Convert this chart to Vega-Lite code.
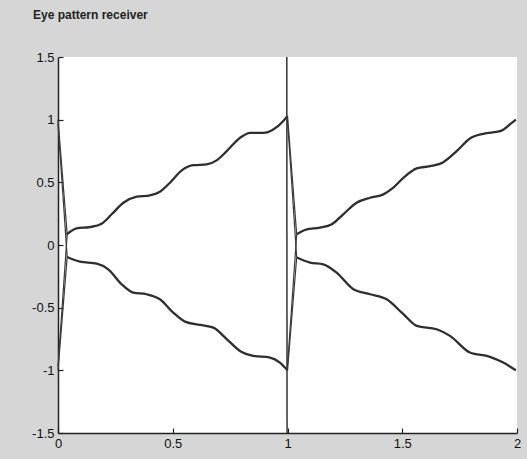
{
  "$schema": "https://vega.github.io/schema/vega-lite/v6.json",
  "autosize": "none",
  "width": 459,
  "height": 376,
  "padding": {"left": 58, "top": 57, "right": 10, "bottom": 26},
  "background": "#d6d6d6",
  "title": {
    "text": "Eye pattern receiver",
    "anchor": "start",
    "frame": "group",
    "dx": -25,
    "offset": 29,
    "font": "Liberation Sans",
    "fontSize": 12,
    "fontWeight": "bold",
    "color": "#222"
  },
  "config": {
    "view": {"fill": "white", "stroke": null},
    "axis": {
      "grid": false,
      "domainColor": "#222",
      "domainWidth": 1.5,
      "tickColor": "#222",
      "tickSize": -5,
      "tickWidth": 1.2,
      "labelPadding": 9,
      "labelFont": "Liberation Sans",
      "labelFontSize": 13,
      "labelColor": "#111",
      "labelFlush": false,
      "labelOverlap": false,
      "labelExpr": "replace(datum.label, '\u2212', '-')",
      "title": null
    }
  },
  "data": {
    "values": [
      {"s": "t0", "k": "trace", "x": 0.038, "y": 0.085},
      {"s": "t0", "k": "trace", "x": 0.081, "y": 0.133},
      {"s": "t0", "k": "trace", "x": 0.139, "y": 0.143},
      {"s": "t0", "k": "trace", "x": 0.19, "y": 0.17},
      {"s": "t0", "k": "trace", "x": 0.234, "y": 0.245},
      {"s": "t0", "k": "trace", "x": 0.285, "y": 0.337},
      {"s": "t0", "k": "trace", "x": 0.343, "y": 0.385},
      {"s": "t0", "k": "trace", "x": 0.4, "y": 0.396},
      {"s": "t0", "k": "trace", "x": 0.444, "y": 0.425},
      {"s": "t0", "k": "trace", "x": 0.488, "y": 0.497},
      {"s": "t0", "k": "trace", "x": 0.539, "y": 0.595},
      {"s": "t0", "k": "trace", "x": 0.59, "y": 0.637},
      {"s": "t0", "k": "trace", "x": 0.648, "y": 0.643},
      {"s": "t0", "k": "trace", "x": 0.691, "y": 0.675},
      {"s": "t0", "k": "trace", "x": 0.735, "y": 0.749},
      {"s": "t0", "k": "trace", "x": 0.793, "y": 0.855},
      {"s": "t0", "k": "trace", "x": 0.837, "y": 0.895},
      {"s": "t0", "k": "trace", "x": 0.895, "y": 0.895},
      {"s": "t0", "k": "trace", "x": 0.938, "y": 0.922},
      {"s": "t0", "k": "trace", "x": 0.982, "y": 0.99},
      {"s": "t0", "k": "trace", "x": 1.0, "y": 1.03},

      {"s": "b0", "k": "trace", "x": 0.04, "y": -0.096},
      {"s": "b0", "k": "trace", "x": 0.096, "y": -0.133},
      {"s": "b0", "k": "trace", "x": 0.169, "y": -0.149},
      {"s": "b0", "k": "trace", "x": 0.219, "y": -0.194},
      {"s": "b0", "k": "trace", "x": 0.277, "y": -0.313},
      {"s": "b0", "k": "trace", "x": 0.328, "y": -0.38},
      {"s": "b0", "k": "trace", "x": 0.386, "y": -0.393},
      {"s": "b0", "k": "trace", "x": 0.444, "y": -0.433},
      {"s": "b0", "k": "trace", "x": 0.502, "y": -0.539},
      {"s": "b0", "k": "trace", "x": 0.553, "y": -0.611},
      {"s": "b0", "k": "trace", "x": 0.619, "y": -0.637},
      {"s": "b0", "k": "trace", "x": 0.677, "y": -0.659},
      {"s": "b0", "k": "trace", "x": 0.735, "y": -0.751},
      {"s": "b0", "k": "trace", "x": 0.793, "y": -0.845},
      {"s": "b0", "k": "trace", "x": 0.851, "y": -0.884},
      {"s": "b0", "k": "trace", "x": 0.924, "y": -0.898},
      {"s": "b0", "k": "trace", "x": 0.967, "y": -0.938},
      {"s": "b0", "k": "trace", "x": 1.0, "y": -1.0},

      {"s": "t1", "k": "trace", "x": 1.04, "y": 0.085},
      {"s": "t1", "k": "trace", "x": 1.084, "y": 0.125},
      {"s": "t1", "k": "trace", "x": 1.142, "y": 0.138},
      {"s": "t1", "k": "trace", "x": 1.193, "y": 0.165},
      {"s": "t1", "k": "trace", "x": 1.243, "y": 0.245},
      {"s": "t1", "k": "trace", "x": 1.301, "y": 0.337},
      {"s": "t1", "k": "trace", "x": 1.36, "y": 0.377},
      {"s": "t1", "k": "trace", "x": 1.418, "y": 0.404},
      {"s": "t1", "k": "trace", "x": 1.461, "y": 0.457},
      {"s": "t1", "k": "trace", "x": 1.505, "y": 0.536},
      {"s": "t1", "k": "trace", "x": 1.563, "y": 0.611},
      {"s": "t1", "k": "trace", "x": 1.621, "y": 0.629},
      {"s": "t1", "k": "trace", "x": 1.679, "y": 0.661},
      {"s": "t1", "k": "trace", "x": 1.737, "y": 0.749},
      {"s": "t1", "k": "trace", "x": 1.795, "y": 0.85},
      {"s": "t1", "k": "trace", "x": 1.853, "y": 0.887},
      {"s": "t1", "k": "trace", "x": 1.926, "y": 0.908},
      {"s": "t1", "k": "trace", "x": 1.977, "y": 0.974},
      {"s": "t1", "k": "trace", "x": 1.995, "y": 1.0},

      {"s": "b1", "k": "trace", "x": 1.04, "y": -0.1},
      {"s": "b1", "k": "trace", "x": 1.098, "y": -0.14},
      {"s": "b1", "k": "trace", "x": 1.156, "y": -0.154},
      {"s": "b1", "k": "trace", "x": 1.214, "y": -0.22},
      {"s": "b1", "k": "trace", "x": 1.287, "y": -0.353},
      {"s": "b1", "k": "trace", "x": 1.36, "y": -0.393},
      {"s": "b1", "k": "trace", "x": 1.432, "y": -0.433},
      {"s": "b1", "k": "trace", "x": 1.505, "y": -0.552},
      {"s": "b1", "k": "trace", "x": 1.563, "y": -0.645},
      {"s": "b1", "k": "trace", "x": 1.65, "y": -0.672},
      {"s": "b1", "k": "trace", "x": 1.708, "y": -0.725},
      {"s": "b1", "k": "trace", "x": 1.795, "y": -0.858},
      {"s": "b1", "k": "trace", "x": 1.882, "y": -0.892},
      {"s": "b1", "k": "trace", "x": 1.94, "y": -0.938},
      {"s": "b1", "k": "trace", "x": 1.995, "y": -1.0},

      {"s": "d0a", "k": "dump", "x": 0.0, "y": 1.0},
      {"s": "d0a", "k": "dump", "x": 0.04, "y": 0.085},
      {"s": "d0b", "k": "dump", "x": 0.0, "y": 0.97},
      {"s": "d0b", "k": "dump", "x": 0.04, "y": -0.096},
      {"s": "d0c", "k": "dump", "x": 0.0, "y": -1.0},
      {"s": "d0c", "k": "dump", "x": 0.04, "y": -0.096},
      {"s": "d0d", "k": "dump", "x": 0.0, "y": -0.97},
      {"s": "d0d", "k": "dump", "x": 0.04, "y": 0.085},

      {"s": "d1a", "k": "dump", "x": 1.0, "y": 1.03},
      {"s": "d1a", "k": "dump", "x": 1.04, "y": 0.085},
      {"s": "d1b", "k": "dump", "x": 1.0, "y": 1.0},
      {"s": "d1b", "k": "dump", "x": 1.04, "y": -0.1},
      {"s": "d1c", "k": "dump", "x": 1.0, "y": -1.0},
      {"s": "d1c", "k": "dump", "x": 1.04, "y": -0.1},
      {"s": "d1d", "k": "dump", "x": 1.0, "y": -0.97},
      {"s": "d1d", "k": "dump", "x": 1.04, "y": 0.085},

      {"s": "v1", "k": "edge", "x": 0.997, "y": 1.5},
      {"s": "v1", "k": "edge", "x": 0.998, "y": -1.5}
    ]
  },
  "encoding": {
    "x": {
      "field": "x",
      "type": "quantitative",
      "scale": {"domain": [0, 2], "nice": false, "zero": false},
      "axis": {"values": [0, 0.5, 1, 1.5, 2], "format": "~g"}
    },
    "y": {
      "field": "y",
      "type": "quantitative",
      "scale": {"domain": [-1.5, 1.5], "nice": false, "zero": false},
      "axis": {"values": [-1.5, -1, -0.5, 0, 0.5, 1, 1.5], "format": "~g"}
    },
    "detail": {"field": "s", "type": "nominal"}
  },
  "layer": [
    {
      "transform": [{"filter": "datum.k === 'trace'"}],
      "mark": {"type": "line", "color": "#2e2e2e", "strokeWidth": 2.3, "interpolate": "monotone"}
    },
    {
      "transform": [{"filter": "datum.k === 'dump'"}],
      "mark": {"type": "line", "color": "#3a3a3a", "strokeWidth": 1.2}
    },
    {
      "transform": [{"filter": "datum.k === 'edge'"}],
      "mark": {"type": "line", "color": "#333", "strokeWidth": 1.5}
    }
  ]
}
